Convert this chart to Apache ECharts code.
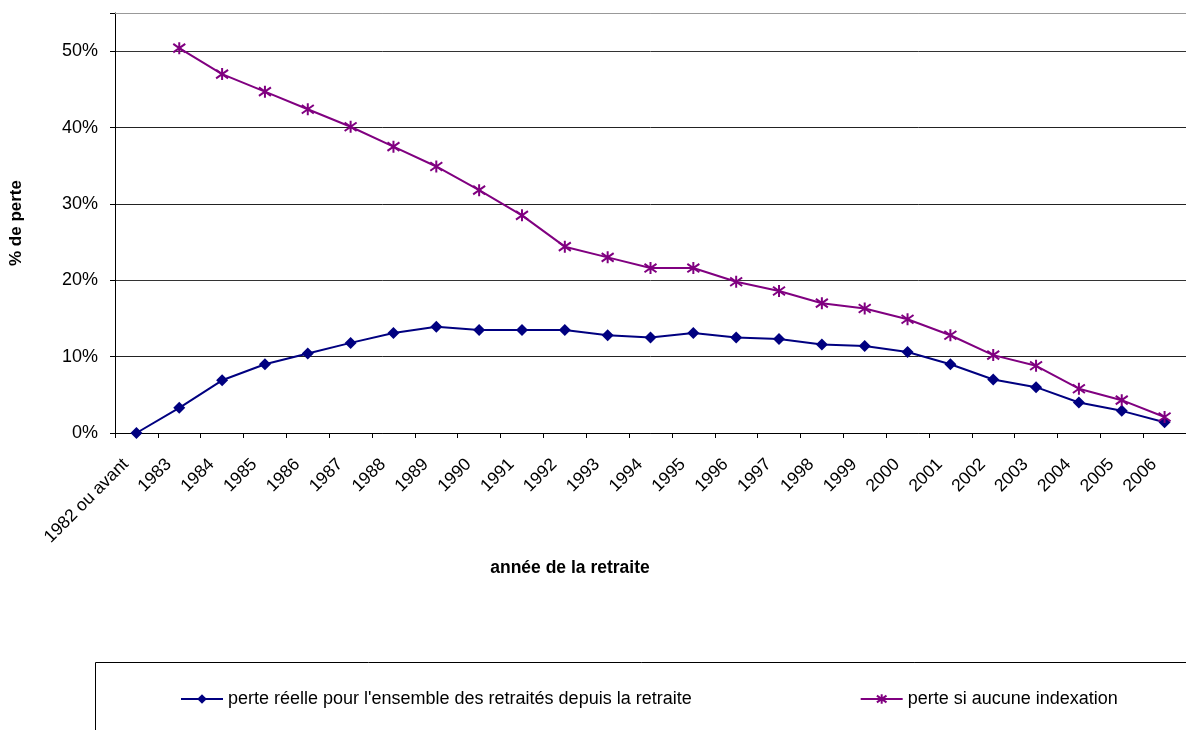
<!DOCTYPE html>
<html>
<head>
<meta charset="utf-8">
<script src="https://cdn.jsdelivr.net/npm/echarts@6/dist/echarts.min.js"></script>
<style>html,body{margin:0;padding:0;background:#fff;}#c{width:1186px;height:730px;}</style>
</head>
<body>
<div id="c"></div>
<script>
const categories = ['1982 ou avant','1983','1984','1985','1986','1987','1988','1989','1990','1991','1992','1993','1994','1995','1996','1997','1998','1999','2000','2001','2002','2003','2004','2005','2006'];
const perteReelle = [0.000,0.033,0.069,0.090,0.104,0.118,0.131,0.139,0.135,0.135,0.135,0.128,0.125,0.131,0.125,0.123,0.116,0.114,0.106,0.090,0.070,0.060,0.040,0.029,0.014];
const perteSansIndexation = [null,0.504,0.470,0.447,0.424,0.401,0.375,0.349,0.318,0.285,0.244,0.230,0.216,0.216,0.198,0.186,0.170,0.163,0.149,0.128,0.102,0.088,0.058,0.043,0.021];
const seriesNames = ["perte réelle pour l'ensemble des retraités depuis la retraite", 'perte si aucune indexation'];

const FONT = '"Liberation Sans", Arial, sans-serif';
const starPath = 'path://M0,-10 L0,10 M-7.07,-7.07 L7.07,7.07 M-7.07,7.07 L7.07,-7.07';

const chart = echarts.init(document.getElementById('c'), null, {renderer: 'canvas'});
chart.setOption({
  animation: false,
  backgroundColor: '#fff',
  textStyle: {fontFamily: FONT},
  title: {
    text: 'année de la retraite',
    left: 570, top: 559, textAlign: 'center', padding: 0,
    textStyle: {fontFamily: FONT, fontSize: 17.5, fontWeight: 'bold', color: '#000'}
  },
  graphic: [{
    type: 'rect', left: 93, top: 660,
    shape: {width: 1200, height: 120},
    style: {fill: 'none', stroke: '#000', lineWidth: 1}, z: -1
  }],
  legend: {
    left: 180, top: 690, padding: 0,
    itemWidth: 42, itemHeight: 12, itemGap: 168,
    textStyle: {fontFamily: FONT, fontSize: 18, color: '#000'},
    data: seriesNames
  },
  grid: {left: 113, right: -13, top: 13, bottom: 297, containLabel: false},
  xAxis: [{
    type: 'category', data: categories, boundaryGap: true,
    axisLine: {lineStyle: {color: '#000', width: 1}},
    axisTick: {show: true, alignWithLabel: false, length: 5, lineStyle: {color: '#000'}},
    axisLabel: {rotate: 45, interval: 0, fontFamily: FONT, fontSize: 17.5, color: '#000', margin: 18, padding: [0, 15, 0, 0]},
    splitLine: {show: false}
  }, {
    type: 'category', data: categories, position: 'top',
    axisLine: {show: true, lineStyle: {color: '#999', width: 1}},
    axisTick: {show: false}, axisLabel: {show: false}, splitLine: {show: false}
  }],
  yAxis: {
    type: 'value', min: 0, max: 0.55, interval: 0.1,
    name: '% de perte', nameLocation: 'middle', nameGap: 90,
    nameTextStyle: {fontFamily: FONT, fontSize: 17, fontWeight: 'bold', color: '#000'},
    axisLine: {show: true, lineStyle: {color: '#000', width: 1}},
    axisTick: {show: true, length: 5, lineStyle: {color: '#000'}},
    axisLabel: {
      fontFamily: FONT, fontSize: 18, color: '#000', margin: 17,
      formatter: v => v > 0.501 ? '' : Math.round(v * 100) + '%'
    },
    splitLine: {show: true, lineStyle: {color: ['#222','#222','#333','#222','#222','#333','#999'], width: 1}}
  },
  series: [{
    name: seriesNames[0], type: 'line', data: perteReelle,
    symbol: 'diamond', symbolSize: 12,
    lineStyle: {color: '#000080', width: 2},
    itemStyle: {color: '#000080'}
  }, {
    name: seriesNames[1], type: 'line', data: perteSansIndexation,
    symbol: starPath, symbolSize: 12,
    lineStyle: {color: '#800080', width: 2},
    itemStyle: {color: '#800080', borderColor: '#800080', borderWidth: 2}
  }]
});
</script>
</body>
</html>
